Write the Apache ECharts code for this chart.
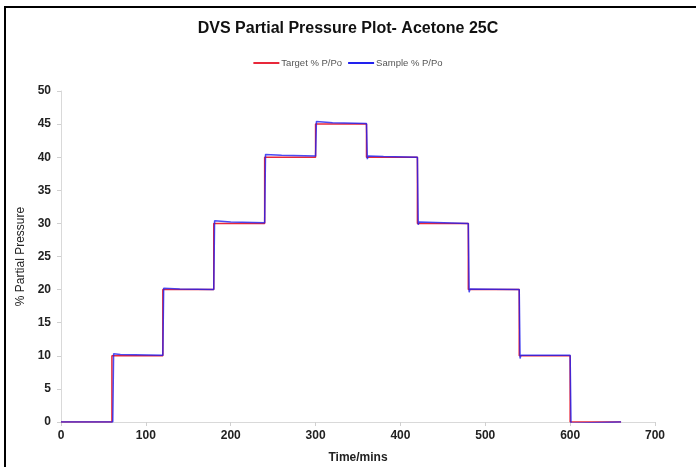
<!DOCTYPE html>
<html>
<head>
<meta charset="utf-8">
<script src="https://cdn.jsdelivr.net/npm/echarts@6/dist/echarts.min.js"></script>
<style>html,body{margin:0;padding:0;background:#fff}#c{width:696px;height:467px}</style>
</head>
<body>
<div id="c"></div>
<script>
var titleText = 'DVS Partial Pressure Plot- Acetone 25C';
var targetName = 'Target % P/Po';
var sampleName = 'Sample % P/Po';
var xTicks = [0, 100, 200, 300, 400, 500, 600, 700];
var yTicks = [0, 5, 10, 15, 20, 25, 30, 35, 40, 45, 50];
var targetTime = [0, 60, 60, 120, 120, 180, 180, 240, 240, 300, 300, 360, 360, 420, 420, 480, 480, 540, 540, 600, 600, 660];
var targetVal  = [0, 0, 10, 10, 20, 20, 30, 30, 40, 40, 45, 45, 40, 40, 30, 30, 20, 20, 10, 10, 0, 0];
var sampleTime = [0, 61, 62, 70, 120, 121, 140, 180, 181, 200, 240, 241, 260, 300, 301, 320, 360, 361, 362, 380, 420, 421, 422, 480, 481, 482, 540, 541, 542, 600, 601, 602, 660];
var sampleVal  = [0, 0, 10.3, 10.2, 10.1, 20.2, 20.1, 20.0, 30.4, 30.2, 30.1, 40.4, 40.3, 40.2, 45.4, 45.2, 45.1, 39.7, 40.2, 40.1, 40.0, 29.8, 30.2, 30.0, 19.6, 20.1, 20.0, 9.6, 10.1, 10.1, -0.2, 0, 0];

function pairs(t, v) { return t.map(function (x, i) { return [x, v[i]]; }); }

var chart = echarts.init(document.getElementById('c'));
var font = '"Liberation Sans", Arial, sans-serif';
chart.setOption({
  animation: false,
  backgroundColor: '#fff',
  title: {
    text: titleText, left: 'center', top: 16,
    textStyle: { fontFamily: font, fontWeight: 'bold', fontSize: 16, color: '#111' }
  },
  legend: {
    top: 53, left: 'center', itemWidth: 26, itemHeight: 2, itemGap: 6,
    icon: 'rect',
    textStyle: { fontFamily: font, fontSize: 9.5, color: '#555', padding: [0, 0, 0, -3] },
    data: [targetName, sampleName]
  },
  graphic: [{
    type: 'rect', shape: { x: 5, y: 7, width: 720, height: 480 },
    style: { fill: 'none', stroke: '#000', lineWidth: 2 }, silent: true, z: 100
  }],
  grid: { left: 61, right: 41, top: 91, bottom: 45, containLabel: false, outerBoundsMode: 'none' },
  xAxis: {
    type: 'value', min: xTicks[0], max: xTicks[xTicks.length - 1], interval: 100,
    name: 'Time/mins', nameLocation: 'middle', nameGap: 30,
    nameTextStyle: { fontFamily: font, fontWeight: 'bold', fontSize: 12, color: '#222' },
    axisLine: { lineStyle: { color: '#d9d9d9' } },
    axisTick: { show: true, length: 4, lineStyle: { color: '#d0d0d0' } },
    axisLabel: { fontFamily: font, fontWeight: 'bold', fontSize: 12, color: '#222', margin: 8 },
    splitLine: { show: false }
  },
  yAxis: {
    type: 'value', min: yTicks[0], max: yTicks[yTicks.length - 1], interval: 5,
    name: '% Partial Pressure', nameLocation: 'middle', nameGap: 28, nameRotate: 90,
    nameTextStyle: { fontFamily: font, fontSize: 12, color: '#222' },
    axisLine: { show: true, lineStyle: { color: '#d9d9d9' } },
    axisTick: { show: true, length: 4, lineStyle: { color: '#d0d0d0' } },
    axisLabel: { fontFamily: font, fontWeight: 'bold', fontSize: 12, color: '#222', margin: 10 },
    splitLine: { show: false }
  },
  series: [{
    name: targetName, type: 'line', data: pairs(targetTime, targetVal),
    showSymbol: false, symbol: 'none', color: '#e8283a',
    lineStyle: { width: 1.5, color: '#e8283a' }
  }, {
    name: sampleName, type: 'line', data: pairs(sampleTime, sampleVal),
    showSymbol: false, symbol: 'none', color: '#2222ee',
    lineStyle: { width: 1.5, color: 'rgba(30,30,240,0.8)' }
  }]
});
</script>
</body>
</html>
